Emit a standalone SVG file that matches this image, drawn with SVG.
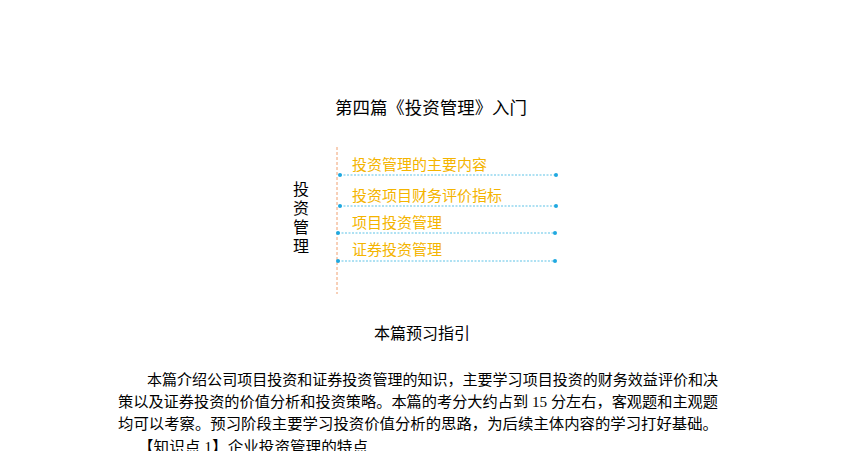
<svg xmlns="http://www.w3.org/2000/svg" width="844" height="474" viewBox="0 0 844 474">
<style>
.t{font-family:"Liberation Serif","Noto Sans CJK SC",serif;fill:#000}
.s{font-family:"Noto Sans CJK SC",sans-serif}
.lab{font-family:"Noto Sans CJK SC",sans-serif;font-size:15px;fill:#f4b400}
.ln{stroke:#5fc4e8;stroke-width:1.2;stroke-dasharray:2 1.5}
.d{fill:#1fa8e0}
</style>
<rect width="844" height="474" fill="#fff"/>
<text class="t" x="335" y="114" font-size="17" textLength="192" lengthAdjust="spacingAndGlyphs">第四篇《投资管理》入门</text>
<g id="root">
<text class="s" x="301" y="181" font-size="16" writing-mode="tb" letter-spacing="3">投资管理</text>
</g>
<g id="connectors">
<line x1="337" y1="147" x2="337" y2="294" stroke="#f0a070" stroke-width="1" stroke-dasharray="3 2"/>
<line class="ln" x1="340" y1="175" x2="556" y2="175"/><circle class="d" cx="340" cy="175" r="2"/><circle class="d" cx="556" cy="175" r="2"/>
<line class="ln" x1="340" y1="206" x2="556" y2="206"/><circle class="d" cx="340" cy="206" r="2"/><circle class="d" cx="556" cy="206" r="2"/>
<line class="ln" x1="338" y1="233" x2="555" y2="233"/><circle class="d" cx="338" cy="233" r="2"/><circle class="d" cx="555" cy="233" r="2"/>
<line class="ln" x1="338" y1="261" x2="555" y2="261"/><circle class="d" cx="338" cy="261" r="2"/><circle class="d" cx="555" cy="261" r="2"/>
</g>
<g id="n1"><text class="lab" x="352" y="170">投资管理的主要内容</text></g>
<g id="n2"><text class="lab" x="352" y="201">投资项目财务评价指标</text></g>
<g id="n3"><text class="lab" x="352" y="228">项目投资管理</text></g>
<g id="n4"><text class="lab" x="352" y="255">证券投资管理</text></g>
<text class="t" x="422" y="339" font-size="16" text-anchor="middle">本篇预习指引</text>
<g class="t" font-size="15">
<text x="147" y="385" textLength="571" lengthAdjust="spacingAndGlyphs">本篇介绍公司项目投资和证券投资管理的知识，主要学习项目投资的财务效益评价和决</text>
<text x="118" y="407" textLength="600" lengthAdjust="spacingAndGlyphs">策以及证券投资的价值分析和投资策略。本篇的考分大约占到 15 分左右，客观题和主观题</text>
<text x="118" y="429" textLength="600" lengthAdjust="spacingAndGlyphs">均可以考察。预习阶段主要学习投资价值分析的思路，为后续主体内容的学习打好基础。</text>
<text x="138" y="452" textLength="230" lengthAdjust="spacingAndGlyphs">【知识点 1】企业投资管理的特点</text>
</g>
<rect x="0" y="451" width="844" height="23" fill="#fff"/>
</svg>
